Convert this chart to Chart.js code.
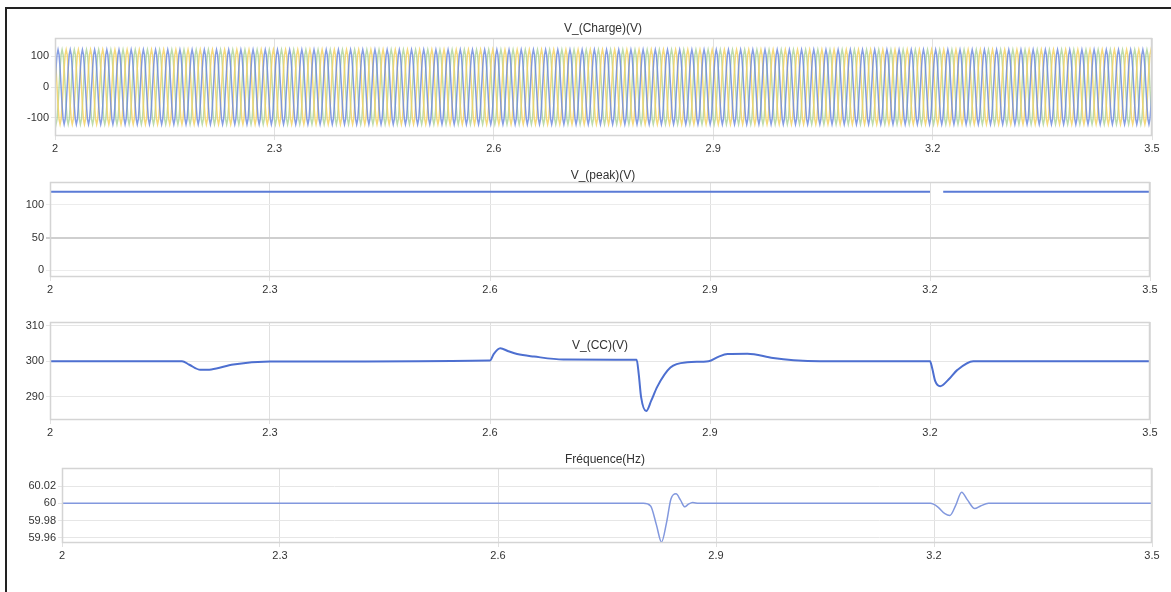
<!DOCTYPE html>
<html>
<head>
<meta charset="utf-8">
<script src="https://cdn.jsdelivr.net/npm/chart.js@4.4.1/dist/chart.umd.min.js"></script>
<style>
  body { margin: 0; background: #fff; font-family: "Liberation Sans", Arial, sans-serif; }
  #page { position: relative; width: 1171px; height: 592px; overflow: hidden; }
  #frame { position: absolute; left: 5px; top: 7px; width: 1200px; height: 600px;
           border-left: 2px solid #222; border-top: 2px solid #222; }
  .panel { position: absolute; left: 0; width: 1171px; }
  .title { position: absolute; width: 300px; text-align: center; font-size: 12px; color: #333; }
</style>
</head>
<body>
<div id="page">
  <div id="frame"></div>
  <div class="panel" style="top:10px;height:160px"><canvas id="charge"></canvas></div>
  <div class="panel" style="top:170px;height:140px"><canvas id="peak"></canvas></div>
  <div class="panel" style="top:310px;height:140px"><canvas id="vcc"></canvas></div>
  <div class="panel" style="top:450px;height:142px"><canvas id="freq"></canvas></div>
  <div class="title" style="left:453px;top:21px">V_(Charge)(V)</div>
  <div class="title" style="left:453px;top:168px">V_(peak)(V)</div>
  <div class="title" style="left:450px;top:338px">V_(CC)(V)</div>
  <div class="title" style="left:455px;top:452px">Fréquence(Hz)</div>
</div>
<script>
// x axis shared by all four panels
const xTicks = [2, 2.3, 2.6, 2.9, 3.2, 3.5];

// V_(Charge): one 60 Hz cycle (12 samples), repeated over 2..3.5 s
const chargeCycle = [0, 61, 106, 122, 106, 61, 0, -61, -106, -122, -106, -61];
const chargeFreq = 60;
const chargeTicks = [-100, 0, 100];

// V_(peak)
const peakT = [2, 3.2, 3.209, 3.218, 3.5];
const peakV = [120, 120, null, 120, 120];
const peakTicks = [0, 50, 100];

// V_(CC)
const vccT = [2.0, 2.18, 2.19, 2.205, 2.22, 2.25, 2.3, 2.6, 2.605, 2.614, 2.625, 2.637, 2.66, 2.7,
  2.8, 2.803, 2.806, 2.813, 2.82, 2.828, 2.846, 2.869, 2.898, 2.912, 2.924, 2.951, 2.986, 3.014,
  3.05, 3.2, 3.203, 3.207, 3.214, 3.225, 3.237, 3.259, 3.3, 3.5];
const vccV = [300, 300, 299, 297.6, 297.7, 299.1, 299.9, 300.2, 302, 303.6, 302.8, 302, 301.3, 300.5,
  300.4, 296, 290, 286, 289, 292.8, 298.2, 299.7, 300, 301.3, 302, 302.1, 300.9, 300.3,
  300, 300, 298, 294.5, 293, 294.8, 297.5, 300, 300, 300];
const vccTicks = [290, 300, 310];

// Fréquence
const freqT = [2.0, 2.8, 2.81, 2.818, 2.825, 2.832, 2.838, 2.845, 2.851, 2.857, 2.862, 2.868, 2.876,
  3.195, 3.205, 3.215, 3.222, 3.23, 3.238, 3.246, 3.256, 3.264, 3.275, 3.5];
const freqV = [60, 60, 59.997, 59.975, 59.955, 59.978, 60.005, 60.011, 60.004, 59.996, 59.999, 60.001, 60,
  60, 59.996, 59.988, 59.986, 59.998, 60.013, 60.004, 59.994, 59.997, 60, 60];
const freqTicks = [59.96, 59.98, 60, 60.02];

function toPoints(ts, vs) {
  return ts.map((t, i) => ({ x: t, y: vs[i] }));
}

function phase(offset) {
  const n = chargeCycle.length;
  const pts = [];
  const count = Math.round(1.5 * chargeFreq) * n;
  for (let i = 0; i <= count; i++) {
    pts.push({ x: 2 + i / (n * chargeFreq), y: chargeCycle[(i + offset) % n] });
  }
  return pts;
}

const boxPlugin = {
  id: "box",
  afterDraw(chart) {
    const a = chart.chartArea;
    const ctx = chart.ctx;
    ctx.save();
    ctx.strokeStyle = "#d4d4d4";
    ctx.lineWidth = 1.5;
    ctx.strokeRect(a.left + 0.5, a.top + 0.5, a.width - 1, a.height - 1);
    ctx.restore();
  },
};

function makeChart(id, p) {
  return new Chart(document.getElementById(id), {
    type: "line",
    data: { datasets: p.datasets },
    options: {
      responsive: true,
      maintainAspectRatio: false,
      animation: false,
      layout: { padding: { top: p.top, right: p.right, left: 0, bottom: 0 } },
      plugins: { legend: { display: false }, tooltip: { enabled: false } },
      elements: { point: { radius: 0 } },
      scales: {
        x: {
          type: "linear",
          min: 2,
          max: 3.5,
          afterBuildTicks: (s) => { s.ticks = xTicks.map((v) => ({ value: v })); },
          afterFit: (s) => { s.height = p.xh; },
          ticks: {
            callback: (v) => String(+v.toFixed(1)),
            color: "#333",
            font: { size: 11, family: "Liberation Sans" },
            maxRotation: 0,
            autoSkip: false,
            padding: p.xpad || 2,
          },
          grid: { color: "#e0e0e0", tickLength: 4 },
          border: { display: false },
        },
        y: {
          min: p.ymin,
          max: p.ymax,
          afterBuildTicks: (s) => { s.ticks = p.yTicks.map((v) => ({ value: v })); },
          afterFit: (s) => { s.width = p.yw; },
          ticks: {
            callback: (v) => String(+v.toFixed(2)),
            color: "#333",
            font: { size: 11, family: "Liberation Sans" },
            padding: 2,
          },
          grid: { color: p.gridColor || "#e6e6e6", lineWidth: p.gridWidth || 1, tickLength: 4 },
          border: { display: false },
        },
      },
    },
    plugins: [boxPlugin],
  });
}

makeChart("charge", {
  top: 28, right: 19, xh: 34, yw: 55, ymin: -160, ymax: 160, yTicks: chargeTicks,
  datasets: [
    { data: phase(0), borderColor: "rgba(112,140,222,0.85)", borderWidth: 1.5 },
    { data: phase(4), borderColor: "rgba(243,210,100,0.85)", borderWidth: 1.5 },
    { data: phase(8), borderColor: "rgba(170,210,150,0.8)", borderWidth: 1.5 },
  ],
});

makeChart("peak", {
  top: 12, right: 21, xh: 33, yw: 50, ymin: -10, ymax: 135, yTicks: peakTicks,
  gridColor: (c) => (c.tick && c.tick.value === 50 ? "#cfcfcf" : "#ececec"),
  gridWidth: (c) => (c.tick && c.tick.value === 50 ? 2 : 1),
  datasets: [
    { data: toPoints(peakT, peakV), borderColor: "#5b7bd6", borderWidth: 2, spanGaps: false },
  ],
});

makeChart("vcc", {
  top: 12, right: 21, xh: 30, yw: 50, ymin: 283.5, ymax: 311, yTicks: vccTicks,
  datasets: [
    { data: toPoints(vccT, vccV), borderColor: "#4d6fd0", borderWidth: 2, cubicInterpolationMode: "monotone" },
  ],
});

makeChart("freq", {
  top: 18, right: 19, xh: 49, yw: 62, ymin: 59.954, ymax: 60.041, yTicks: freqTicks,
  datasets: [
    { data: toPoints(freqT, freqV), borderColor: "#8298de", borderWidth: 1.5, cubicInterpolationMode: "monotone" },
  ],
});
</script>
</body>
</html>
